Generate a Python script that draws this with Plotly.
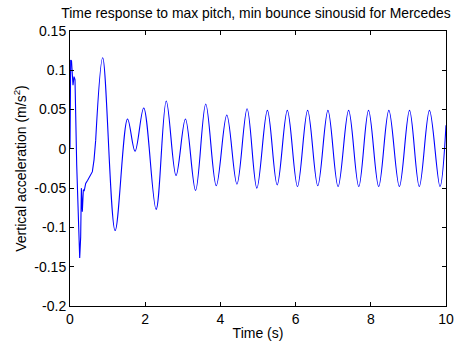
import plotly.graph_objects as go

# Early transient (jagged) part
t_early = [0.0, 0.018, 0.04, 0.062, 0.08, 0.107, 0.133, 0.178, 0.213, 0.258, 0.284, 0.302,
           0.328, 0.355, 0.38, 0.417, 0.47, 0.533, 0.595, 0.639, 0.683]
a_early = [0.0, 0.113, 0.112, 0.085, 0.081, 0.092, 0.088, -0.02, -0.078, -0.139, -0.112, -0.050,
           -0.080, -0.052, -0.053, -0.044, -0.040, -0.035, -0.029, -0.014, 0.011]

# Oscillatory part (extrema)
t_osc = [0.683, 0.87, 1.20, 1.53, 1.73, 1.96, 2.29, 2.56, 2.82, 3.07, 3.34, 3.61, 3.89, 4.17,
         4.44, 4.71, 4.97, 5.25, 5.51, 5.78, 6.05, 6.32, 6.59, 6.86, 7.13, 7.41, 7.68, 7.94,
         8.21, 8.48, 8.76, 9.03, 9.29, 9.56, 9.84, 10.0]
a_osc = [0.011, 0.116, -0.104, 0.038, -0.003, 0.052, -0.077, 0.061, -0.034, 0.038, -0.053, 0.057,
         -0.047, 0.043, -0.045, 0.051, -0.050, 0.049, -0.046, 0.049, -0.048, 0.049, -0.047, 0.049,
         -0.048, 0.049, -0.048, 0.049, -0.048, 0.049, -0.048, 0.049, -0.048, 0.049, -0.048, 0.030]

x_ticks = [0, 2, 4, 6, 8, 10]
x_labels = ["0", "2", "4", "6", "8", "10"]
y_ticks = [0.15, 0.1, 0.05, 0, -0.05, -0.1, -0.15, -0.2]
y_labels = ["0.15", "0.1", "0.05", "0", "-0.05", "-0.1", "-0.15", "-0.2"]

FONT = "Liberation Sans, Arial, Helvetica, sans-serif"

fig = go.Figure()
fig.add_trace(go.Scatter(x=t_early, y=a_early, mode="lines",
                         line=dict(color="#0000ff", width=1.1), showlegend=False))
fig.add_trace(go.Scatter(x=t_osc, y=a_osc, mode="lines",
                         line=dict(color="#0000ff", width=1.1, shape="spline", smoothing=1.0),
                         showlegend=False))

axis_common = dict(showline=True, linecolor="black", linewidth=1, mirror="ticks",
                   ticks="inside", ticklen=4, tickcolor="black", showgrid=False,
                   zeroline=False, automargin=False,
                   tickfont=dict(family=FONT, size=14, color="black"))

fig.update_layout(
    width=454, height=350,
    margin=dict(l=70, r=8, t=31, b=44),
    paper_bgcolor="white", plot_bgcolor="white",
    font=dict(family=FONT, size=14, color="black"),
    title=dict(text="Time response to max pitch, min bounce sinousid for Mercedes",
               x=0.5638, xanchor="center", y=0.962, yanchor="middle",
               font=dict(family=FONT, size=13.9, color="black")),
    xaxis=dict(range=[0, 10], tickvals=x_ticks, ticktext=x_labels,
               title=dict(text="Time (s)", standoff=2, font=dict(family=FONT, size=14)),
               **axis_common),
    yaxis=dict(range=[-0.2, 0.15], tickvals=y_ticks, ticktext=y_labels,
               title=dict(text="Vertical acceleration (m/s<sup>2</sup>)", standoff=4,
                          font=dict(family=FONT, size=14)),
               **axis_common),
)

fig.write_html("out.html")
